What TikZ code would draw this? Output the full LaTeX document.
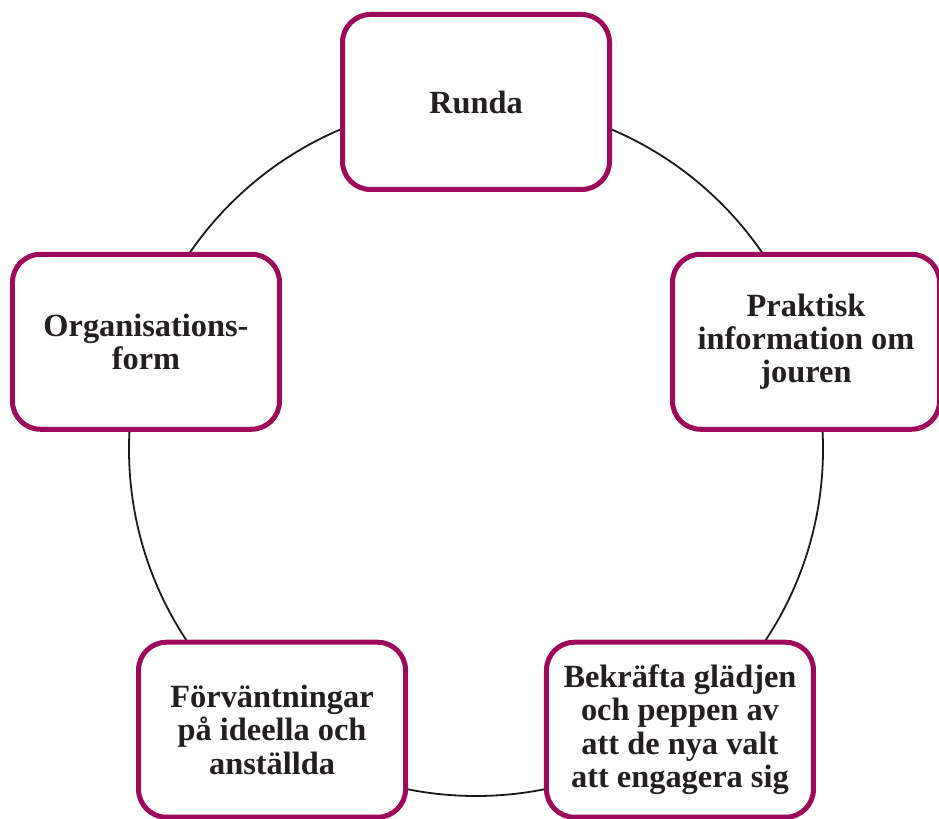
\documentclass[tikz,border=0pt]{standalone}
\usepackage{fontspec}
\setmainfont{Liberation Serif}
\usepackage{tikz}
\definecolor{boxrim}{HTML}{9E0A5B}
\definecolor{boxtext}{HTML}{231F20}
\tikzset{
  stepbox/.style={draw=boxrim, line width=5bp, fill=white, rounded corners=28bp,
    minimum width=267bp, minimum height=175bp, inner sep=0pt, align=center,
    text=boxtext, font=\bfseries\fontsize{32.5}{33.5}\selectfont},
  ring/.style={draw=black!90, line width=1.8bp}
}
\begin{document}
\begin{tikzpicture}[x=1bp,y=1bp]
      \useasboundingbox (0,0) rectangle (939,819);
      \coordinate (mid) at (476,370);
      \draw[ring] (mid) circle[radius=347bp];
      \node[stepbox] (runda) at ([shift={(90:347)}]mid) {Runda};
      \node[stepbox] (praktisk) at ([shift={(18:347)}]mid) {Praktisk\\information om\\jouren};
      \node[stepbox] (bekrafta) at ([shift={(-54:347)}]mid) {Bekräfta glädjen\\och peppen av\\att de nya valt\\att engagera sig};
      \node[stepbox] (forvantn) at ([shift={(-126:347)}]mid) {Förväntningar\\på ideella och\\anställda};
      \node[stepbox] (organis) at ([shift={(162:347)}]mid) {Organisations-\\form};
    \end{tikzpicture}
\end{document}
